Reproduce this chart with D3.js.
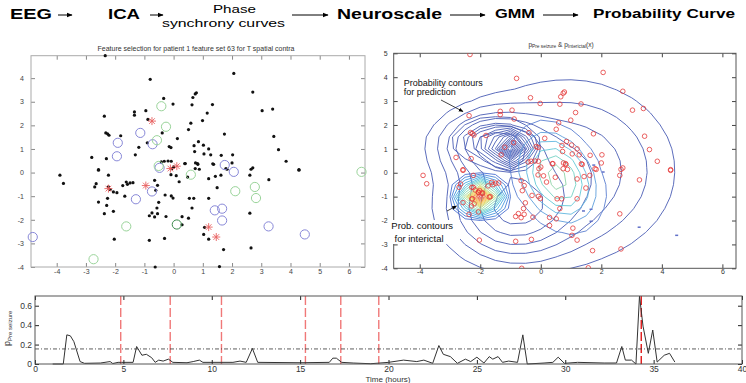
<!DOCTYPE html>
<html>
<head>
<meta charset="utf-8">
<script src="https://cdn.jsdelivr.net/npm/d3@7"></script>
<style>
  body { margin: 0; background: #fff; }
  svg text { font-family: "Liberation Sans", Arial, sans-serif; }
</style>
</head>
<body>
<script>
// ---------------- data ----------------
const headerSteps = ["EEG", "ICA", "Phase", "synchrony curves", "Neuroscale", "GMM", "Probability Curve"];

const leftTitle = "Feature selection for patient 1 feature set 63 for T spatial contra";

// features (black dots on the left, red circles on the right)
const featureDots = [
  [-2.34,4.95],[-0.8,3.95],[2.06,4.2],[0.78,3.38],[0.74,3.33],[-0.34,3.14],[0.66,3.18],[2.71,3.41],
  [-0.02,2.9],[0.63,2.87],[1.33,2.88],[-1.34,2.57],[-1.34,2.43],[-0.95,2.62],[1.15,2.52],[3.03,2.62],
  [3.39,2.69],[-2.37,2.39],[-0.88,2.25],[0.99,2.2],[0.59,2.09],[0.51,1.82],[-0.39,1.68],[-2.32,1.68],
  [-2.26,1.64],[-2.21,1.58],[-1.81,1.56],[1.74,1.63],[3.43,1.53],[0.13,1.44],[-0.9,1.26],[0.85,1.31],
  [0.7,1.14],[1.02,1.16],[-1.19,1.07],[-0.15,1.1],[-0.09,1.06],[1.2,1.0],[0.72,0.89],[3.59,0.97],
  [1.04,0.79],[1.27,0.75],[1.63,0.73],[2.02,0.75],[-1.31,0.75],[-2.8,0.64],[-2.3,0.59],[3.85,0.48],
  [-0.42,0.45],[-0.32,0.48],[-0.19,0.49],[-0.08,0.48],[0.38,0.38],[0.75,0.41],[1.37,0.35],[0.83,0.35],
  [2.71,0.2],[-2.57,0.13],[0,0.24],[0.74,0.17],[1.79,0.17],[4.29,0.13],
  [-0.06,0.17],[0.88,0.14],[1.34,0.37],[2.0,0.41],[0.82,0.38],[0.4,0.38],[1.2,-0.26],[1.43,-0.16],
  [1.62,-0.11],[1.83,0.14],[2.61,-0.11],[2.65,0.14],[4.29,0.1],[3.26,-0.3],[-3.89,-0.11],[-3.77,-0.46],
  [-2.57,0.1],[-2.23,-0.11],[-2.65,-0.47],[-2.7,-0.61],[-2.23,-0.61],[-2.17,-0.72],[-2.06,-0.82],[-1.94,-0.85],
  [-1.74,-0.55],[-1.62,-0.4],[-1.58,-0.5],[-1.49,-0.44],[-1.39,-0.43],[-1.67,-1.0],[-2.57,-1.25],[-2.26,-1.09],
  [-2.29,-1.39],[-2.37,-1.74],[-2.06,-1.64],[-0.65,-0.33],[-0.55,-0.54],[-0.61,-0.75],[-0.29,-0.95],[-0.08,-0.99],
  [-0.02,-1.08],[-0.09,-0.09],[0.09,-0.13],[0.19,-0.39],[0.48,-0.19],[0.54,-1.09],[0.69,-1.09],[0.63,-1.5],
  [0.29,-1.87],[0.51,-1.93],[-0.51,-1.26],[-0.57,-1.5],[-0.74,-1.71],[-0.55,-1.74],[-0.83,-1.83],[-0.65,-1.88],
  [-0.26,-1.86],[0.29,-2.21],[1.2,-1.09],[1.49,-0.64],[1.03,-2.62],[1.2,-2.82],[1.06,-2.32],[2.61,-1.72],
  [-2.03,-2.82],[-0.31,-2.79],[-0.83,-2.87],[1.71,-3.26],[2.65,-3.19],[-0.63,-4.0],[1.57,-3.98]
];
const blueCircles = [
  [-1.14,1.68],[-1.91,1.26],[-0.72,1.2],[-1.94,0.69],[-0.48,0.2],[1.75,0.32],[2.06,0.03],[-0.74,-0.8],
  [-1.29,-1.13],[1.41,-1.6],[1.66,-1.53],[1.66,-2.03],[3.25,-2.28],[4.49,-2.62],[-4.82,-2.73]
];
const greenCircles = [
  [-0.42,2.81],[-0.26,1.94],[-0.57,1.37],[-0.51,0.28],[0.59,-0.09],[2.78,-0.61],[2.11,-0.79],
  [2.82,-1.08],[-1.62,-2.28],[-2.74,-3.67],[6.43,0.03]
];
const darkGreenCircles = [[0.11,-2.2]];
const redStars = [[-0.74,2.18],[-0.11,0.17],[0.11,0.27],[-0.95,-0.55],[-2.23,-0.68],[1.2,-2.31],[1.46,-2.73]];
const interictalExtra = [[-2.28,-0.61],[-2.06,-0.82],[-1.92,-0.85],[-1.7,-1.02],[-2.28,-1.1],[-2.02,-0.75],[-2.2,-1.3]];

// GMM components: mean x/y, sd x/y, rotation, weight
const gmmBroad = [
  {mx: 0.9, my: 0.1, sx: 2.0, sy: 2.15, rot: 0, w: 1.0},
  {mx: -1.0, my: -1.6, sx: 1.2, sy: 1.2, rot: 0, w: 0.5},
  {mx: -1.6, my: 1.2, sx: 1.0, sy: 0.8, rot: 0, w: 0.3}
];
const gmmPeak = [
  {mx: -0.95, my: 1.0, sx: 0.35, sy: 0.4, rot: 0, w: 0.6},
  {mx: -1.6, my: 1.3, sx: 0.75, sy: 0.55, rot: 0, w: 0.6}
];
const gmmCentre = [{mx: 0.55, my: -0.2, sx: 0.75, sy: 1.25, rot: 0.3, w: 1}];
const gmmInterictal = [{mx: -2.0, my: -1.0, sx: 0.42, sy: 0.42, rot: 0, w: 1}];

const broadLevels = [0.1, 0.2, 0.32, 0.46, 0.62, 0.8];
const peakLevels = [0.06, 0.12, 0.18, 0.24, 0.3, 0.36, 0.42, 0.48, 0.54, 0.6, 0.66, 0.72, 0.78, 0.84, 0.9];
const centreLevels = [0.15, 0.3, 0.45, 0.6, 0.75, 0.9];
const interictalLevels = [0.06, 0.11, 0.16, 0.21, 0.26, 0.31, 0.36, 0.41, 0.46, 0.51, 0.56, 0.61, 0.66, 0.71, 0.76, 0.81, 0.86, 0.91, 0.96];

// probability curve
const probTimes = [1.0,1.6,1.8,2.0,2.2,2.55,2.8,3.7,4.25,4.4,4.7,4.9,5.55,5.75,6.05,6.3,6.6,6.8,7.0,7.25,
  7.55,7.8,8.6,8.95,9.3,9.5,11.2,11.6,11.95,12.3,12.6,15.0,16.65,16.85,17.05,17.35,18.0,19.0,20.0,20.85,
  21.6,22.0,22.5,22.85,23.1,23.5,23.9,24.35,24.65,25.0,25.4,25.7,25.9,26.2,26.45,26.8,27.3,27.6,27.85,28.8,
  29.3,29.6,29.95,30.7,32.2,32.9,33.2,33.4,33.75,34.0,34.2,34.4,34.7,34.95,35.2,35.6,35.9,36.2];
const probValues = [0,0,0.30,0.29,0.23,0.025,0.007,0.01,0.025,0.005,0.017,0.017,0.017,0.18,0.09,0.10,0.065,0.017,0.04,0.03,
  0.05,0.017,0.013,0.025,0.04,0.017,0.017,0.03,0.017,0.16,0.017,0.013,0.017,0.06,0.06,0.017,0.01,0.003,0.017,0.04,
  0.025,0.04,0.007,0.19,0.10,0.076,0.007,0.05,0.025,0.07,0.01,0.076,0.05,0.076,0.017,0.03,0.017,0.30,0.0,0.01,
  0.017,0.07,0.007,0.017,0.01,0.01,0.18,0.04,0.04,0.0,0.70,0.39,0.11,0.35,0.02,0.09,0.11,0.02];
const seizureTimes = [4.85, 7.65, 10.55, 15.3, 17.3, 19.45];
const mainSeizure = 34.3;
const threshold = 0.155;

const leftXTicks = d3.range(-4, 7, 1), leftYTicks = d3.range(-4, 5, 1);
const rightXTicks = d3.range(-4, 7, 2), rightYTicks = d3.range(-4, 6, 1);
const timeTicks = d3.range(0, 41, 5), probTicks = [0, 0.2, 0.4, 0.6];

// ---------------- drawing ----------------
const svg = d3.select("body").append("svg").attr("width", 746).attr("height", 383);

const defs = svg.append("defs");
defs.append("marker").attr("id", "ah").attr("viewBox", "0 0 10 10").attr("refX", 9).attr("refY", 5)
  .attr("markerWidth", 6).attr("markerHeight", 6).attr("orient", "auto")
  .append("path").attr("d", "M0,1L10,5L0,9z").attr("fill", "#000");

// header
const hdrLayout = [
  {x: 10, y: 18.5, len: 42, size: 14, bold: true},
  {x: 108, y: 18.5, len: 32, size: 14, bold: true},
  {x: 213, y: 12.5, len: 43, size: 11.5, bold: false},
  {x: 162, y: 27, len: 123, size: 11.5, bold: false},
  {x: 337, y: 18.5, len: 105, size: 14, bold: true},
  {x: 495, y: 18, len: 40, size: 12, bold: true},
  {x: 593, y: 18, len: 142, size: 12.5, bold: true}
];
svg.append("g").selectAll("text").data(headerSteps).join("text")
  .attr("x", (d, i) => hdrLayout[i].x).attr("y", (d, i) => hdrLayout[i].y)
  .attr("textLength", (d, i) => hdrLayout[i].len).attr("lengthAdjust", "spacingAndGlyphs")
  .attr("font-size", (d, i) => hdrLayout[i].size).attr("font-weight", (d, i) => hdrLayout[i].bold ? "bold" : "normal")
  .text(d => d);
const hdrArrows = [[58, 72], [150, 163], [292, 328], [450, 485], [543, 578]];
svg.append("g").selectAll("line").data(hdrArrows).join("line")
  .attr("x1", d => d[0]).attr("x2", d => d[1]).attr("y1", 15).attr("y2", 15)
  .attr("stroke", "#000").attr("stroke-width", 1).attr("marker-end", "url(#ah)");

// matlab-ish box with inward ticks on every side
function boxAxes(g, x, y, xt, yt, o) {
  const [x0, x1] = x.range(), [y0, y1] = y.range();
  const fmt = o.fmt || (d => String(d));
  const style = sel => {
    sel.select(".domain").remove();
    sel.selectAll("line").attr("stroke", o.tick);
    sel.selectAll("text").attr("font-size", o.font).attr("fill", o.label).attr("font-family", null);
  };
  g.append("g").attr("transform", `translate(0,${y0})`)
    .call(d3.axisBottom(x).tickValues(xt).tickSize(-4).tickPadding(o.padX).tickFormat(fmt)).call(style);
  g.append("g").attr("transform", `translate(0,${y1})`)
    .call(d3.axisTop(x).tickValues(xt).tickSize(-4).tickFormat("")).call(style);
  g.append("g").attr("transform", `translate(${x0},0)`)
    .call(d3.axisLeft(y).tickValues(yt).tickSize(-4).tickPadding(o.padY).tickFormat(o.yfmt || fmt)).call(style);
  g.append("g").attr("transform", `translate(${x1},0)`)
    .call(d3.axisRight(y).tickValues(yt).tickSize(-4).tickFormat("")).call(style);
  g.append("rect").attr("x", x0).attr("y", y1).attr("width", x1 - x0).attr("height", y0 - y1)
    .attr("fill", "none").attr("stroke", o.frame).attr("stroke-width", 1);
}

// ---- left: feature selection scatter ----
const lx = d3.scaleLinear().domain([-4.88, 6.55]).range([31, 365]);
const ly = d3.scaleLinear().domain([-4, 4.95]).range([267, 55.7]);
const gl = svg.append("g");
boxAxes(gl, lx, ly, leftXTicks, leftYTicks, {tick: "#888", label: "#444", frame: "#aaa", font: 7, padX: 2, padY: 7});
gl.append("text").attr("x", 196).attr("y", 50.5).attr("text-anchor", "middle")
  .attr("font-size", 7).attr("fill", "#333").text(leftTitle);

const asterisk = {
  draw(ctx, size) {
    const r = Math.sqrt(size) / 2;
    for (let k = 0; k < 4; k++) {
      const a = k * Math.PI / 4;
      ctx.moveTo(-r * Math.cos(a), -r * Math.sin(a));
      ctx.lineTo(r * Math.cos(a), r * Math.sin(a));
    }
  }
};

gl.append("g").selectAll("circle").data(featureDots).join("circle")
  .attr("cx", d => lx(d[0])).attr("cy", d => ly(d[1])).attr("r", 1.6).attr("fill", "#111");
gl.append("g").selectAll("circle").data(blueCircles).join("circle")
  .attr("cx", d => lx(d[0])).attr("cy", d => ly(d[1])).attr("r", 4.6)
  .attr("fill", "none").attr("stroke", "#8888d8").attr("stroke-width", 1);
gl.append("g").selectAll("circle").data(greenCircles).join("circle")
  .attr("cx", d => lx(d[0])).attr("cy", d => ly(d[1])).attr("r", 4.6)
  .attr("fill", "none").attr("stroke", "#9ad49a").attr("stroke-width", 1);
gl.append("g").selectAll("circle").data(darkGreenCircles).join("circle")
  .attr("cx", d => lx(d[0])).attr("cy", d => ly(d[1])).attr("r", 4.6)
  .attr("fill", "none").attr("stroke", "#3a8a4a").attr("stroke-width", 1);
gl.append("g").selectAll("path").data(redStars).join("path")
  .attr("transform", d => `translate(${lx(d[0])},${ly(d[1])})`)
  .attr("d", d3.symbol().type(asterisk).size(64))
  .attr("fill", "none").attr("stroke", "#e86060").attr("stroke-width", 0.9);

// ---- right: GMM contours ----
const rx = d3.scaleLinear().domain([-4.86, 6.45]).range([393.7, 736]);
const ry = d3.scaleLinear().domain([-4, 5]).range([268.3, 53.3]);
const gr = svg.append("g");
defs.append("clipPath").attr("id", "rclip").append("rect")
  .attr("x", 393.7).attr("y", 53.3).attr("width", 736 - 393.7).attr("height", 268.3 - 53.3);

const step = 0.5, gx0 = -5.5, gy0 = -5, nx = 26, ny = 22;
function gridDensity(comps) {
  const vals = new Array(nx * ny);
  for (let j = 0; j < ny; j++) for (let i = 0; i < nx; i++) {
    const px = gx0 + i * step, py = gy0 + j * step;
    let s = 0;
    for (const c of comps) {
      const dx = px - c.mx, dy = py - c.my;
      const u = Math.cos(c.rot) * dx + Math.sin(c.rot) * dy;
      const v = -Math.sin(c.rot) * dx + Math.cos(c.rot) * dy;
      s += c.w * Math.exp(-0.5 * (u * u / (c.sx * c.sx) + v * v / (c.sy * c.sy))) / (c.sx * c.sy);
    }
    vals[j * nx + i] = s;
  }
  return vals;
}
const gridPath = d3.geoPath(d3.geoTransform({
  point(px, py) { this.stream.point(rx(gx0 + (px - 0.5) * step), ry(gy0 + (py - 0.5) * step)); }
}));
function drawContours(comps, levels, color) {
  const vals = gridDensity(comps);
  const mx = d3.max(vals);
  const cs = d3.contours().size([nx, ny]).thresholds(levels.map(l => l * mx))(vals);
  gr.append("g").attr("clip-path", "url(#rclip)").selectAll("path").data(cs).join("path")
    .attr("d", gridPath).attr("fill", "none")
    .attr("stroke", (d, i) => color(i / Math.max(1, levels.length - 1)))
    .attr("stroke-width", 0.9).attr("stroke-linejoin", "round");
}
drawContours(gmmBroad, broadLevels, () => "#4a5cb4");
drawContours(gmmPeak, peakLevels, () => "#4a5cb4");
drawContours(gmmCentre, centreLevels, d3.interpolateRgbBasis(["#5b7fd0", "#62b4e4", "#5fd0d8", "#8ed4a8"]));
drawContours(gmmInterictal, interictalLevels,
  d3.interpolateRgbBasis(["#4a6fd0", "#45b0e8", "#62d8d0", "#c8e080", "#f8d040", "#f08840", "#e03838"]));

boxAxes(gr, rx, ry, rightXTicks, rightYTicks, {tick: "#444", label: "#333", frame: "#555", font: 7, padX: 1, padY: 6});

gr.append("g").attr("clip-path", "url(#rclip)").selectAll("circle")
  .data(featureDots.concat(interictalExtra)).join("circle")
  .attr("cx", d => rx(d[0])).attr("cy", d => ry(d[1])).attr("r", 2.3)
  .attr("fill", "none").attr("stroke", "#e53a3a").attr("stroke-width", 0.8);
gr.append("g").selectAll("line").data(blueCircles.filter(d => d[0] > 1)).join("line")
  .attr("x1", d => rx(d[0]) - 1.5).attr("x2", d => rx(d[0]) + 1.5)
  .attr("y1", d => ry(d[1])).attr("y2", d => ry(d[1]))
  .attr("stroke", "#6070c8").attr("stroke-width", 1.5);

const rt = gr.append("text").attr("x", 561).attr("y", 46.5).attr("text-anchor", "middle")
  .attr("font-size", 6.5).attr("fill", "#333");
rt.append("tspan").text("p");
rt.append("tspan").attr("font-size", 4.8).attr("dy", 1.5).text("Pre seizure");
rt.append("tspan").attr("dy", -1.5).text(" & p");
rt.append("tspan").attr("font-size", 4.8).attr("dy", 1.5).text("Interictal");
rt.append("tspan").attr("dy", -1.5).text("(x)");

const ann = gr.append("g").attr("font-size", 9).attr("fill", "#111");
ann.append("text").attr("x", 403.7).attr("y", 85.5).text("Probability contours");
ann.append("text").attr("x", 403.7).attr("y", 94.5).text("for prediction");
ann.append("rect").attr("x", 390).attr("y", 220).attr("width", 70).attr("height", 24).attr("fill", "#fff");
ann.append("text").attr("x", 391.3).attr("y", 229).attr("font-size", 9.5).text("Prob. contours");
ann.append("text").attr("x", 394.5).attr("y", 242).attr("font-size", 9.5).text("for interictal");
ann.append("line").attr("x1", 441).attr("y1", 100).attr("x2", 463).attr("y2", 111.5)
  .attr("stroke", "#111").attr("stroke-width", 0.8).attr("marker-end", "url(#ah)");
ann.append("line").attr("x1", 447).attr("y1", 211).attr("x2", 456.5).attr("y2", 206)
  .attr("stroke", "#111").attr("stroke-width", 0.8).attr("marker-end", "url(#ah)");

// ---- bottom: probability curve ----
const bx = d3.scaleLinear().domain([0, 40]).range([35, 742]);
const by = d3.scaleLinear().domain([0, 0.7]).range([364, 296]);
const gb = svg.append("g");

gb.append("g").selectAll("line").data(seizureTimes).join("line")
  .attr("x1", d => bx(d)).attr("x2", d => bx(d)).attr("y1", 296).attr("y2", 364)
  .attr("stroke", "#f07878").attr("stroke-width", 1.4).attr("stroke-dasharray", "9,3");
gb.append("line").attr("x1", bx(mainSeizure)).attr("x2", bx(mainSeizure)).attr("y1", 296).attr("y2", 364)
  .attr("stroke", "#e01818").attr("stroke-width", 1.4).attr("stroke-dasharray", "9,3");

gb.append("line").attr("x1", 35).attr("x2", 742).attr("y1", by(threshold)).attr("y2", by(threshold))
  .attr("stroke", "#333").attr("stroke-width", 0.8).attr("stroke-dasharray", "4,2,1,2");

const probLine = d3.line().x((d, i) => bx(probTimes[i])).y(d => by(d));
gb.append("path").attr("d", probLine(probValues)).attr("fill", "none")
  .attr("stroke", "#333").attr("stroke-width", 1).attr("stroke-linejoin", "round");

boxAxes(gb, bx, by, timeTicks, probTicks, {tick: "#222", label: "#333", frame: "#555", font: 8.5, padX: 2, padY: 3,
  yfmt: d => d === 0 ? "0" : d.toFixed(1)});

gb.append("text").attr("x", 388).attr("y", 381.5).attr("text-anchor", "middle")
  .attr("font-size", 8).attr("fill", "#333").text("Time (hours)");
const yl = gb.append("text").attr("transform", "translate(10,346) rotate(-90)")
  .attr("font-size", 9).attr("fill", "#333");
yl.append("tspan").text("p");
yl.append("tspan").attr("font-size", 6).attr("dy", 2).text("Pre seizure");
</script>
</body>
</html>
